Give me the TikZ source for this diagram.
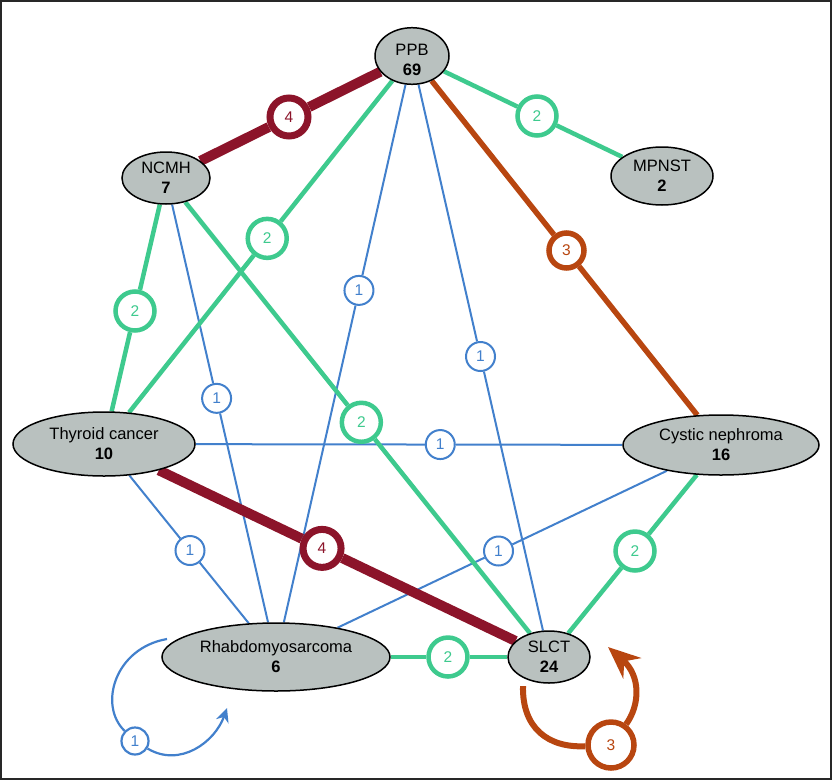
\documentclass[tikz,border=0pt]{standalone}
\usepackage{fontspec}
\setmainfont{Liberation Sans}
\usetikzlibrary{shapes.geometric,arrows.meta,calc,backgrounds}
\definecolor{cRed}{RGB}{140,20,42}
\definecolor{cOrange}{RGB}{184,70,16}
\definecolor{cGreen}{RGB}{62,202,142}
\definecolor{cBlue}{RGB}{66,128,204}
\definecolor{cFill}{RGB}{185,193,191}
\definecolor{cFrame}{RGB}{40,40,40}
\begin{document}
\begin{tikzpicture}[x=1pt,y=-1pt,
  dnode/.style={ellipse, draw=black, fill=cFill, line width=1.5pt, inner sep=0pt, align=center,
    font=\fontsize{16.5}{20}\selectfont},
  lab/.style={circle, fill=white, inner sep=0pt, font=\fontsize{15.5}{15.5}\selectfont},
  labR/.style={lab, draw=cRed, text=cRed, line width=7pt, minimum size=38pt},
  labO/.style={lab, draw=cOrange, text=cOrange, line width=5.5pt, minimum size=35pt},
  labOL/.style={lab, draw=cOrange, text=cOrange, line width=5.5pt, minimum size=46pt},
  labG/.style={lab, draw=cGreen, text=cGreen, line width=4.5pt, minimum size=39pt},
  labB/.style={lab, draw=cBlue, text=cBlue, line width=2pt, minimum size=29pt},
  labBL/.style={lab, draw=cBlue, text=cBlue, line width=2.2pt, minimum size=27pt},
  eRed/.style={draw=cRed, line width=10pt},
  eOrange/.style={draw=cOrange, line width=5.5pt},
  eGreen/.style={draw=cGreen, line width=4.5pt},
  eBlue/.style={draw=cBlue, line width=2pt},
]
\useasboundingbox (0,0) rectangle (834,782);
\draw[cFrame, line width=2pt] (1,1) rectangle (831,779);

% disease nodes
\node[dnode, minimum width=74pt, minimum height=54pt] (ppb) at (412,56) {\raisebox{-5pt}[\height][\depth]{\begin{tabular}{@{}c@{}}PPB\\\textbf{69}\end{tabular}}};
\node[dnode, minimum width=88pt, minimum height=52pt] (ncmh) at (166,178) {NCMH\\\textbf{7}};
\node[dnode, minimum width=102pt, minimum height=58pt] (mpnst) at (662,176) {MPNST\\\textbf{2}};
\node[dnode, minimum width=182pt, minimum height=64pt] (thy) at (104,444) {Thyroid cancer\\\textbf{10}};
\node[dnode, minimum width=196pt, minimum height=60pt] (cys) at (721,445) {Cystic nephroma\\\textbf{16}};
\node[dnode, minimum width=228pt, minimum height=68pt] (rha) at (276,657) {Rhabdomyosarcoma\\\textbf{6}};
\node[dnode, minimum width=82pt, minimum height=52pt] (slct) at (549,657) {SLCT\\\textbf{24}};

% edge labels
\node[labR] (l1) at ($(ppb)!0.5!(ncmh)$) {4};
\node[labG] (l2) at ($(ppb)!0.5!(mpnst)$) {2};
\node[labO] (l3) at ($(ppb)!0.5!(cys)$) {3};
\node[labG] (l4) at ($(ppb)!0.47!(thy)$) {2};
\node[labB] (l5) at ($(ppb)!0.39!(rha)$) {1};
\node[labB] (l6) at ($(ppb)!0.5!(slct)$) {1};
\node[labG] (l7) at ($(ncmh)!0.5!(thy)$) {2};
\node[labB] (l8) at ($(ncmh)!0.46!(rha)$) {1};
\node[labG] (l9) at ($(ncmh)!0.51!(slct)$) {2};
\node[labB] (l10) at ($(thy)!0.545!(cys)$) {1};
\node[labR] (l11) at ($(thy)!0.49!(slct)$) {4};
\node[labB] (l12) at ($(thy)!0.5!(rha)$) {1};
\node[labB] (l13) at ($(cys)!0.5!(rha)$) {1};
\node[labG] (l14) at ($(cys)!0.5!(slct)$) {2};
\node[labG] (l15) at ($(rha)!0.63!(slct)$) {2};
\node[labOL] (l16) at (611,745) {3};
\node[labBL] (l17) at (135,741) {1};

\coordinate (sA) at (523,686);
\coordinate (sB) at (608,647);
\coordinate (rA) at (167,639);
\coordinate (rB) at (227,708);

\begin{pgfonlayer}{background}
  \draw[eBlue] (ppb) -- (l5) -- (rha);
  \draw[eBlue] (ppb) -- (l6) -- (slct);
  \draw[eBlue] (ncmh) -- (l8) -- (rha);
  \draw[eBlue] (thy) -- (l10) -- (cys);
  \draw[eBlue] (thy) -- (l12) -- (rha);
  \draw[eBlue] (cys) -- (l13) -- (rha);
  \draw[eGreen] (ppb) -- (l2) -- (mpnst);
  \draw[eGreen] (ppb) -- (l4) -- (thy);
  \draw[eGreen] (ncmh) -- (l7) -- (thy);
  \draw[eGreen] (ncmh) -- (l9) -- (slct);
  \draw[eGreen] (cys) -- (l14) -- (slct);
  \draw[eGreen] (rha) -- (l15) -- (slct);
  \draw[eOrange] (ppb) -- (l3) -- (cys);
  \draw[eRed] (ppb) -- (l1) -- (ncmh);
  \draw[eRed] (thy) -- (l11) -- (slct);
\end{pgfonlayer}

% self loops
\draw[draw=cOrange, line width=6pt] (sA) .. controls (522,728) and (548,748) .. (l16);
\draw[draw=cOrange, line width=6pt, -{Stealth[length=32pt,width=27pt]}] (l16) .. controls (640,705) and (641,676) .. (sB);
\draw[draw=cBlue, line width=2.2pt] (rA) .. controls (115,648) and (98,705) .. (l17);
\draw[draw=cBlue, line width=2.2pt, -{Stealth[length=14pt,width=13pt]}] (l17) .. controls (180,768) and (215,742) .. (rB);
\end{tikzpicture}
\end{document}
